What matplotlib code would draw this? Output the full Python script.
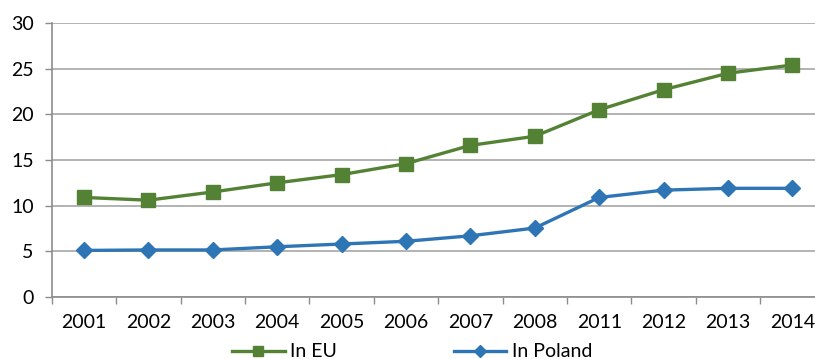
import matplotlib
matplotlib.use('Agg')
import matplotlib.pyplot as plt
import numpy as np

# data
years = ['2001', '2002', '2003', '2004', '2005', '2006',
         '2007', '2008', '2011', '2012', '2013', '2014']
in_eu = [10.9, 10.6, 11.5, 12.5, 13.4, 14.6, 16.6, 17.6, 20.5, 22.7, 24.5, 25.4]
in_poland = [5.1, 5.15, 5.15, 5.5, 5.8, 6.1, 6.7, 7.55, 10.9, 11.7, 11.9, 11.9]

plt.rcParams['font.family'] = ['Lato', 'DejaVu Sans']
plt.rcParams['font.size'] = 14

fig = plt.figure(figsize=(8.15, 3.59), dpi=100)
# plot area runs a little past the right edge (cropped in the original)
ax = fig.add_axes([51.7 / 815, 62 / 359, (824.7 - 51.7) / 815, 274 / 359])

x = np.arange(len(years))
green = '#548235'
blue = '#2E75B6'
ax.plot(x, in_eu, '-s', color=green, lw=2.4, markersize=9.5, label='In EU', zorder=3)
ax.plot(x, in_poland, '-D', color=blue, lw=2.4, markersize=8, label='In Poland', zorder=3)

ax.set_xlim(-0.5, len(years) - 0.5)
ax.set_ylim(0, 30)
ax.set_yticks(range(0, 31, 5))

# ticks on category boundaries, labels in the middle
ax.set_xticks(np.arange(-0.5, len(years), 1.0))
ax.set_xticklabels([])
ax.set_xticks(x, minor=True)
ax.set_xticklabels(years, minor=True)
ax.tick_params(axis='x', which='major', length=5, color='#8c8c8c', width=1)
ax.tick_params(axis='x', which='minor', length=0, pad=12)
ax.tick_params(axis='y', length=5, color='#8c8c8c', width=1, pad=8)

ax.grid(axis='y', color='#a6a6a6', lw=1.2)
ax.set_axisbelow(True)
for s in ['top', 'right']:
    ax.spines[s].set_visible(False)
for s in ['left', 'bottom']:
    ax.spines[s].set_color('#8c8c8c')
    ax.spines[s].set_linewidth(1.2)

fig.legend(loc='center', bbox_to_anchor=(0.506, 0.02), ncol=2, frameon=False,
           handlelength=2.7, handletextpad=0.3, columnspacing=6.0,
           markerscale=0.8, borderpad=0)

fig.savefig('out.png', dpi=100)
